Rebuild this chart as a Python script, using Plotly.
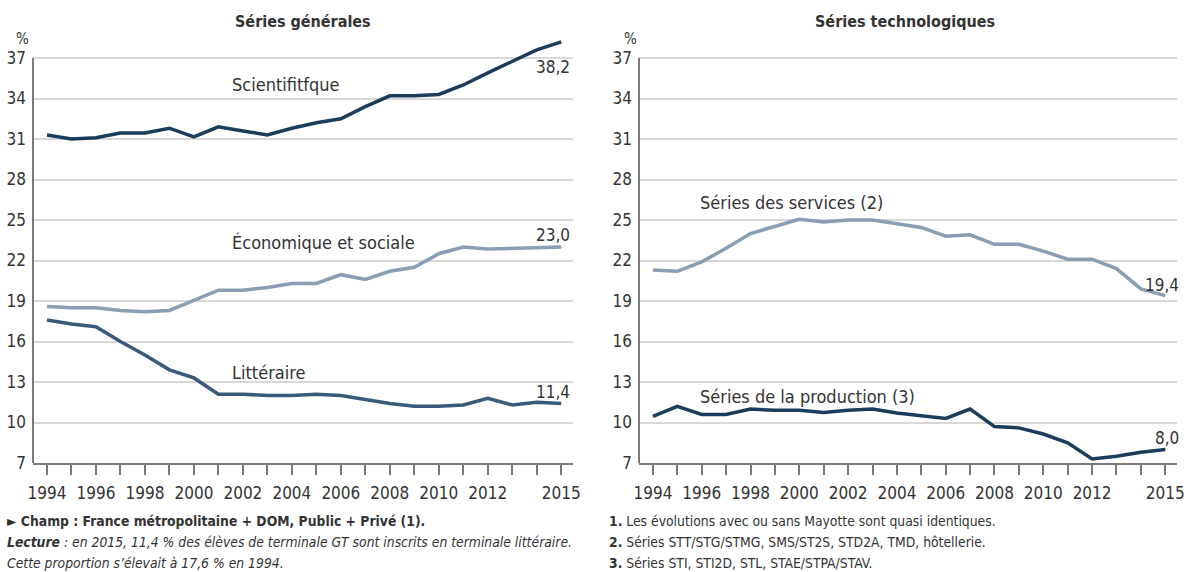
import plotly.graph_objects as go

years = list(range(1994, 2016))

scientifique = [31.3, 31.0, 31.1, 31.45, 31.45, 31.8, 31.15, 31.9, 31.6, 31.3, 31.8,
                32.2, 32.5, 33.4, 34.2, 34.2, 34.3, 35.0, 35.9, 36.75, 37.6, 38.2]
economique = [18.6, 18.5, 18.5, 18.3, 18.2, 18.3, 19.05, 19.8, 19.8, 20.0, 20.3,
              20.3, 20.95, 20.6, 21.2, 21.5, 22.5, 23.0, 22.85, 22.9, 23.0, 23.0]
litteraire = [17.6, 17.3, 17.1, 16.0, 15.0, 13.9, 13.3, 12.1, 12.1, 12.0, 12.0,
              12.1, 12.0, 11.7, 11.4, 11.2, 11.2, 11.3, 11.8, 11.3, 11.5, 11.4]
services = [21.3, 21.2, 21.9, 22.9, 24.0, 24.5, 25.05, 24.85, 25.0, 25.0, 24.7,
            24.45, 23.8, 23.9, 23.2, 23.2, 22.7, 22.1, 22.1, 21.4, 19.9, 19.4]
production = [10.45, 11.2, 10.6, 10.6, 11.0, 10.9, 10.9, 10.75, 10.9, 11.0, 10.7,
              10.5, 10.3, 11.0, 9.7, 9.6, 9.15, 8.5, 7.3, 7.5, 7.8, 8.0]

y_ticks = [7, 10, 13, 16, 19, 22, 25, 28, 31, 34, 37]
x_tick_labels = {1994: "1994", 1996: "1996", 1998: "1998", 2000: "2000", 2002: "2002",
                 2004: "2004", 2006: "2006", 2008: "2008", 2010: "2010", 2012: "2012",
                 2015: "2015"}

panel_titles = ["Séries générales", "Séries technologiques"]
end_labels = ["38,2", "23,0", "11,4", "19,4", "8,0"]

NAVY = "#1c3c5c"
MID = "#3a5a7c"
LIGHT = "#8b9db2"
GRID = "#d8d8d8"
AXIS = "#7a7a7a"
TXT = "#333333"
FONT = "Liberation Sans Narrow, DejaVu Sans Condensed, Roboto Condensed, Arial Narrow, sans-serif"

W, H = 1186, 572


def px(sx):
    return sx / W


def py(sy):
    return 1 - sy / H


fig = go.Figure()

series = [
    ("x", "y", scientifique, NAVY, "Scientifitfque", end_labels[0], 2001.48, 35.0, -25),
    ("x", "y", economique, LIGHT, "Économique et sociale", end_labels[1], 2001.48, 23.3, 12),
    ("x", "y", litteraire, MID, "Littéraire", end_labels[2], 2001.48, 13.74, 12),
    ("x2", "y2", services, LIGHT, "Séries des services (2)", end_labels[3], 1995.85, 26.26, 11),
    ("x2", "y2", production, NAVY, "Séries de la production (3)", end_labels[4], 1995.85, 11.96, 12),
]

annotations = []
for xa, ya, vals, col, name, endlab, lx, ly, eshift in series:
    fig.add_trace(go.Scatter(x=years, y=vals, mode="lines", xaxis=xa, yaxis=ya,
                             line=dict(color=col, width=3.5), showlegend=False,
                             hoverinfo="skip"))
    annotations.append(dict(x=lx, y=ly, xref=xa, yref=ya, text=name, showarrow=False,
                            xanchor="left", yanchor="middle",
                            font=dict(size=18, color=TXT, family=FONT)))
    annotations.append(dict(x=years[-1], y=vals[-1], xref=xa, yref=ya, text=endlab,
                            showarrow=False, xanchor="right", yanchor="middle",
                            xshift=11 if xa == "x" else 16, yshift=eshift,
                            font=dict(size=17, color=TXT, family=FONT)))

xr = [1993.43, 2015.48]
yr = [7, 39]
ydom = [py(463), py(463 - 32 * 13.5)]

common_x = dict(range=xr, tickmode="array", tickvals=years,
                ticktext=[x_tick_labels.get(y, "") for y in years],
                ticks="outside", ticklen=10, tickwidth=2, tickcolor=AXIS,
                showline=True, linecolor=AXIS, linewidth=2, showgrid=False,
                zeroline=False, tickfont=dict(size=17, color=TXT, family=FONT),
                fixedrange=True, automargin=False, ticklabelstandoff=4,
                ticklabeloverflow="allow")
common_y = dict(range=yr, tickmode="array", tickvals=y_ticks,
                ticktext=[str(v) for v in y_ticks], showgrid=True, gridcolor=GRID,
                gridwidth=2, showline=False, zeroline=False, ticks="",
                tickfont=dict(size=17, color=TXT, family=FONT), domain=ydom,
                fixedrange=True, ticklabelstandoff=6, automargin=False)

fig.update_layout(
    width=W, height=H, margin=dict(l=0, r=0, t=0, b=0, autoexpand=False),
    paper_bgcolor="white", plot_bgcolor="white",
    xaxis=dict(domain=[px(33), px(573)], anchor="y", **common_x),
    yaxis=dict(anchor="x", **common_y),
    xaxis2=dict(domain=[px(639), px(1177)], anchor="y2", **common_x),
    yaxis2=dict(anchor="x2", **common_y),
)

shapes = []
for xa, ya in [("x", "y"), ("x2", "y2")]:
    shapes.append(dict(type="line", xref=xa + " domain", yref=ya, x0=0, x1=0,
                       y0=y_ticks[0], y1=y_ticks[-1], line=dict(color=AXIS, width=2)))
fig.update_layout(shapes=shapes)

# titles and % signs
annotations.append(dict(x=px(303), y=py(22), xref="paper", yref="paper",
                        text="<b>" + panel_titles[0] + "</b>", showarrow=False,
                        xanchor="center", yanchor="middle",
                        font=dict(size=16, color=TXT, family=FONT)))
annotations.append(dict(x=px(905), y=py(22), xref="paper", yref="paper",
                        text="<b>" + panel_titles[1] + "</b>", showarrow=False,
                        xanchor="center", yanchor="middle",
                        font=dict(size=16, color=TXT, family=FONT)))
for sx in [22, 630]:
    annotations.append(dict(x=px(sx), y=py(39), xref="paper", yref="paper",
                            text="%", showarrow=False, xanchor="center", yanchor="middle",
                            font=dict(size=15, color=TXT, family=FONT)))

left_notes = [
    "<b>► Champ : France métropolitaine + DOM, Public + Privé (1).</b>",
    "<b><i>Lecture</i></b><i> : en 2015, 11,4 % des élèves de terminale GT sont inscrits en terminale littéraire.</i>",
    "<i>Cette proportion s’élevait à 17,6 % en 1994.</i>",
]
right_notes = [
    "<b>1.</b> Les évolutions avec ou sans Mayotte sont quasi identiques.",
    "<b>2.</b> Séries STT/STG/STMG, SMS/ST2S, STD2A, TMD, hôtellerie.",
    "<b>3.</b> Séries STI, STI2D, STL, STAE/STPA/STAV.",
]
for i, (l, r) in enumerate(zip(left_notes, right_notes)):
    yy = py(521 + 21 * i)
    annotations.append(dict(x=px(5), y=yy, xref="paper", yref="paper", text=l,
                            showarrow=False, xanchor="left", yanchor="middle",
                            font=dict(size=13.8, color=TXT, family=FONT)))
    annotations.append(dict(x=px(607), y=yy, xref="paper", yref="paper", text=r,
                            showarrow=False, xanchor="left", yanchor="middle",
                            font=dict(size=13.8, color=TXT, family=FONT)))

fig.update_layout(annotations=annotations)
fig.write_html(
    "out.html",
    config={"displayModeBar": False, "staticPlot": True},
    post_script="document.body.style.margin='0';document.body.style.overflow='hidden';",
)
